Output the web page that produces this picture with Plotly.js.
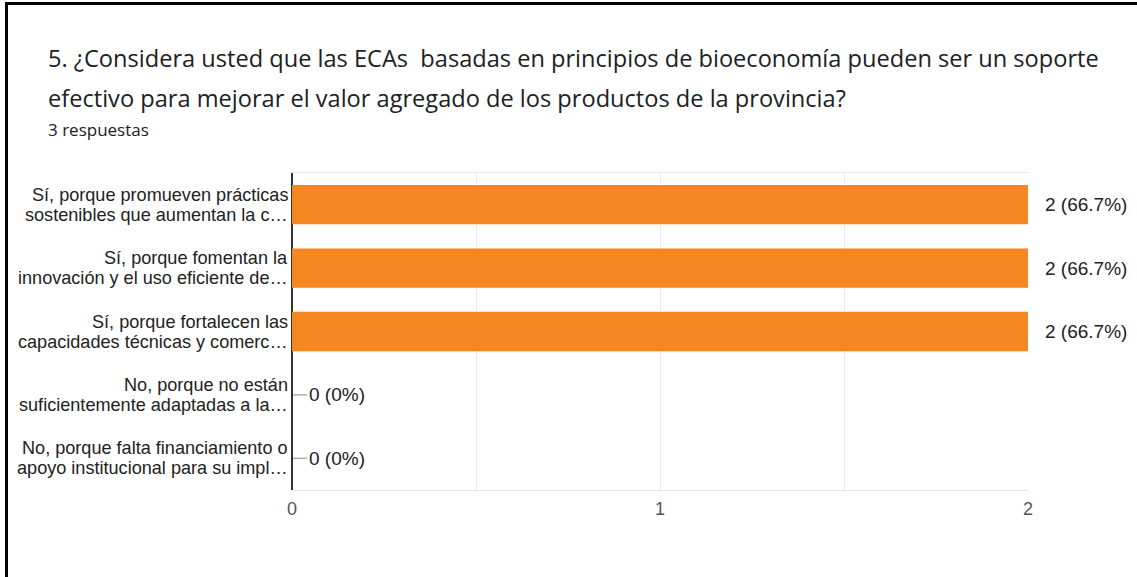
<!DOCTYPE html>
<html>
<head>
<meta charset="utf-8">
<script src="https://cdn.plot.ly/plotly-3.0.1.min.js"></script>
<style>
html,body{margin:0;padding:0;background:#fff;overflow:hidden;}
#chart{width:1137px;height:577px;}
#frame{position:absolute;left:5px;top:2px;width:1140px;height:580px;border-left:3px solid #000;border-top:3px solid #000;pointer-events:none;}
</style>
</head>
<body>
<div id="chart"></div>
<div id="frame"></div>
<script>
const categories = [
  "Sí, porque promueven prácticas<br>sostenibles que aumentan la c…",
  "Sí, porque fomentan la<br>innovación y el uso eficiente de…",
  "Sí, porque fortalecen las<br>capacidades técnicas y comerc…",
  "No, porque no están<br>suficientemente adaptadas a la…",
  "No, porque falta financiamiento o<br>apoyo institucional para su impl…"
];
const counts = [2, 2, 2, 0, 0];
const valueLabels = ["2 (66.7%)", "2 (66.7%)", "2 (66.7%)", "0 (0%)", "0 (0%)"];
const titleLines = [
  "5. ¿Considera usted que las ECAs  basadas en principios de bioeconomía pueden ser un soporte",
  "efectivo para mejorar el valor agregado de los productos de la provincia?"
];
const subtitle = "3 respuestas";
const xTicks = [0, 1, 2];

const W = 1137, H = 577;
const M = {l: 292, r: 109, t: 173, b: 87};
const pw = W - M.l - M.r, ph = H - M.t - M.b;
const px2x = px => (px - M.l) / pw;
const py2y = py => (H - M.b - py) / ph;

const chartFont = 'Liberation Sans, Arial, sans-serif';
const titleFont = 'Open Sans, Roboto, sans-serif';

const annotations = [];
const shapes = [];
categories.forEach((c, i) => {
  const parts = c.split('<br>');
  parts.forEach((p, j) => {
    annotations.push({
      x: px2x(290), y: c, xref: 'paper', yref: 'y',
      text: p, showarrow: false, xanchor: 'right', yanchor: 'middle',
      yshift: (parts.length - 1) * 10 - j * 20,
      font: {family: chartFont, size: 18.1, color: '#222'}
    });
  });
  annotations.push({
    x: counts[i], y: c, xref: 'x', yref: 'y',
    text: valueLabels[i], showarrow: false,
    xanchor: 'left', yanchor: 'middle', xshift: 15,
    font: {family: chartFont, size: 19, color: '#222'}
  });
  shapes.push({
    type: 'line', xref: 'x', yref: 'y', xsizemode: 'pixel',
    xanchor: counts[i], x0: counts[i] === 0 ? 1 : 2, x1: counts[i] === 0 ? 15 : 8,
    y0: c, y1: c,
    line: {color: counts[i] === 0 ? '#9a9a9a' : '#d8d8d8', width: 1.2}
  });
});
annotations.push({
  x: px2x(46), y: py2y(58), xref: 'paper', yref: 'paper',
  text: titleLines[0], showarrow: false, xanchor: 'left', yanchor: 'middle',
  font: {family: titleFont, size: 23.6, color: '#202124'}
});
annotations.push({
  x: px2x(46), y: py2y(98), xref: 'paper', yref: 'paper',
  text: titleLines[1], showarrow: false, xanchor: 'left', yanchor: 'middle',
  font: {family: titleFont, size: 23.6, color: '#202124'}
});
annotations.push({
  x: px2x(46), y: py2y(129), xref: 'paper', yref: 'paper',
  text: subtitle, showarrow: false, xanchor: 'left', yanchor: 'middle',
  font: {family: titleFont, size: 17, color: '#202124'}
});

const trace = {
  type: 'bar', orientation: 'h',
  x: counts, y: categories,
  marker: {color: '#F6861F'},
  width: 0.62,
  hoverinfo: 'none'
};

const layout = {
  width: W, height: H,
  margin: M,
  paper_bgcolor: '#fff', plot_bgcolor: '#fff',
  showlegend: false,
  xaxis: {
    range: [0, 2], tickvals: xTicks, ticktext: xTicks.map(String),
    showgrid: true, gridcolor: '#ececec', gridwidth: 1,
    minor: {dtick: 0.5, showgrid: true, gridcolor: '#ececec', gridwidth: 1},
    zeroline: true, zerolinecolor: '#333', zerolinewidth: 1.5,
    showline: true, mirror: true, linecolor: '#e6e6e6', linewidth: 1,
    tickfont: {family: chartFont, size: 18, color: '#555'},
    ticks: '', ticklabelstandoff: 2, fixedrange: true
  },
  yaxis: {
    categoryorder: 'array', categoryarray: categories.slice().reverse(),
    autorange: false, range: [-0.5, 4.5],
    showgrid: false, zeroline: false, ticks: '', showticklabels: false,
    fixedrange: true
  },
  annotations: annotations,
  shapes: shapes
};

Plotly.newPlot('chart', [trace], layout, {displayModeBar: false, staticPlot: true});
</script>
</body>
</html>
